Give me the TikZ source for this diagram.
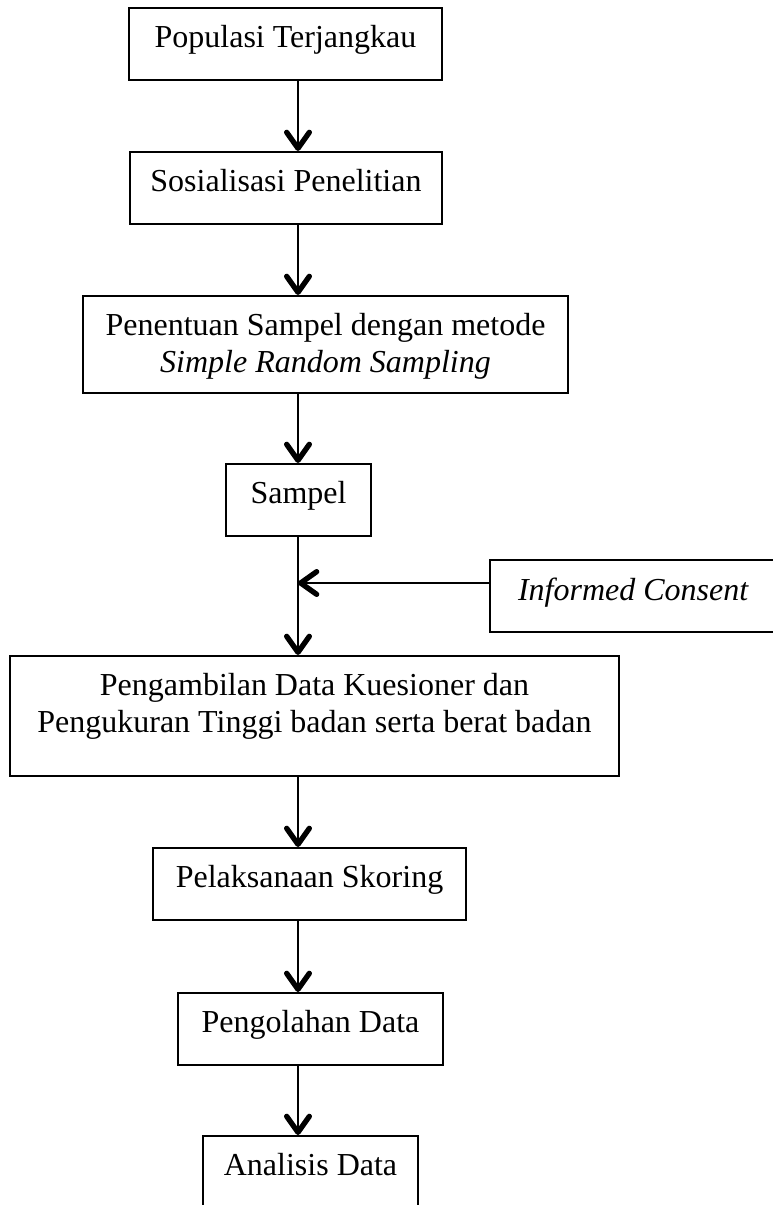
\documentclass[tikz,border=0pt]{standalone}
\usepackage{fontspec}
\setmainfont{Liberation Serif}
\usetikzlibrary{arrows.meta}

\begin{document}
\begin{tikzpicture}[x=0.75pt, y=-0.75pt,
    stepbox/.style={draw, line width=1.4pt, inner sep=0pt, anchor=north,
        font=\fontsize{24}{27.75}\selectfont, align=center,
        text height=30pt, text depth=24pt},
    flow/.style={line width=1.9pt, -{Straight Barb[length=12pt, width=17pt, line width=4pt, round]}}]
    \useasboundingbox (0,0) rectangle (773,1205);
    \clip (0,0) rectangle (773,1205);

    % main column of stages
    \node[stepbox, minimum width=234.75pt] (pop) at (285.5,7) {Populasi Terjangkau};
    \node[stepbox, minimum width=234pt] (sos) at (286,151) {Sosialisasi Penelitian};
    \node[stepbox, minimum width=363.75pt, text height=57.75pt, text depth=15pt] (sampling) at (325.5,295)
        {Penentuan Sampel dengan metode\\ \textit{Simple Random Sampling}};
    \node[stepbox, minimum width=108.75pt] (sampel) at (298.5,463) {Sampel};
    \node[stepbox, minimum width=456.75pt, text height=57.75pt, text depth=32.25pt] (ambil) at (314.5,655)
        {Pengambilan Data Kuesioner dan\\ Pengukuran Tinggi badan serta berat badan};
    \node[stepbox, minimum width=234.75pt] (skor) at (309.5,847) {Pelaksanaan Skoring};
    \node[stepbox, minimum width=198.75pt] (olah) at (310.5,992) {Pengolahan Data};
    \node[stepbox, minimum width=161.25pt, text depth=40pt] (analisis) at (310.5,1135) {Analisis Data};

    % side input
    \node[stepbox, anchor=north west, minimum width=215.25pt, text height=30.75pt, text depth=23.25pt]
        (consent) at (489,559) {\textit{Informed Consent}};

    \coordinate (spine) at (298,0);
    \coordinate (join) at (298,583);

    \foreach \a/\b in {pop/sos, sos/sampling, sampling/sampel, sampel/ambil,
                       ambil/skor, skor/olah, olah/analisis}
        \draw[flow] (\a.south -| spine) -- (\b.north -| spine);
    \draw[flow] (join -| consent.west) -- (join);
\end{tikzpicture}
\end{document}
